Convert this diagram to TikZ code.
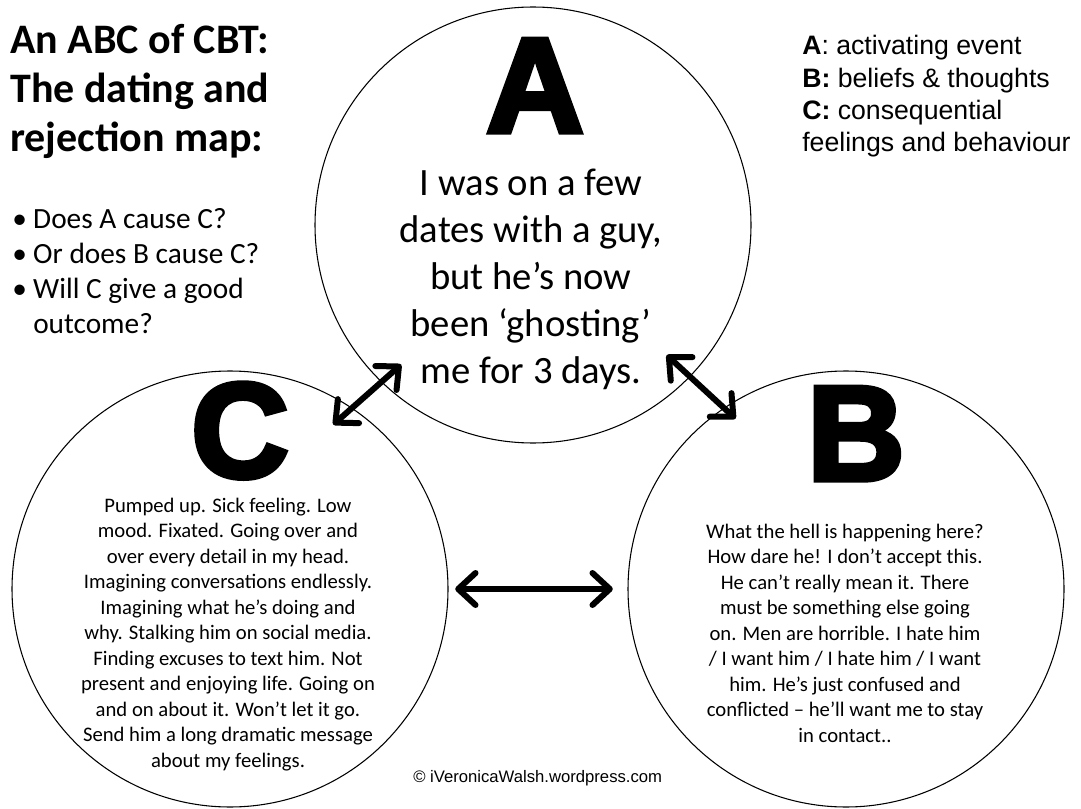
\documentclass[tikz,border=0pt]{standalone}
\usepackage{fontspec}
\setmainfont{Carlito}
\newfontfamily\arialfont{Liberation Sans}
\newfontfamily\heavyfont[FakeBold=4]{Liberation Sans Bold}
\usetikzlibrary{arrows.meta}
\newcommand{\bul}{\makebox[15.75pt][l]{•}}

\begin{document}
\begin{tikzpicture}[x=0.75pt,y=-0.75pt,
  circ/.style={circle,draw,line width=0.8pt,minimum size=327pt,inner sep=0pt},
  bigletter/.style={font=\heavyfont\fontsize{101}{101}\selectfont,inner sep=0pt,anchor=base},
  bodytext/.style={align=center,inner sep=0pt,anchor=base,font=\fontsize{15.5}{19.1}\selectfont},
  link/.style={line width=4.5pt,arrows={Straight Barb[round,length=13pt,width=24pt]-Straight Barb[round,length=13pt,width=24pt]}}]
\useasboundingbox (0,0) rectangle (1081,809);
\node[circ] (circA) at (533,225) {};
\node[circ] (circC) at (230,589) {};
\node[circ] (circB) at (846,589) {};
\node[bigletter] (letA) at (535,132) {A};
\node[bigletter] (letB) at (856,480) {B};
\node[bigletter] (letC) at (240,477) {C};
\node[bodytext,font=\fontsize{29}{35.25}\selectfont] (textA) at (531,383)
  {I was on a few\\dates with a guy,\\but he’s now\\been ‘ghosting’\\me for 3 days.};
\node[bodytext] (textC) at (228,767)
  {Pumped up. Sick feeling. Low\\mood. Fixated. Going over and\\over every detail in my head.\\Imagining conversations endlessly.\\Imagining what he’s doing and\\why. Stalking him on social media.\\Finding excuses to text him. Not\\present and enjoying life. Going on\\and on about it. Won’t let it go.\\Send him a long dramatic message\\about my feelings.};
\node[bodytext] (textB) at (845,742)
  {What the hell is happening here?\\How dare he! I don’t accept this.\\He can’t really mean it. There\\must be something else going\\on. Men are horrible. I hate him\\/ I want him / I hate him / I want\\him. He’s just confused and\\conflicted – he’ll want me to stay\\in contact..};
\node[anchor=base west,align=left,inner sep=0pt,font=\bfseries\fontsize{31.5}{37}\selectfont] (title) at (10,152)
  {An ABC of CBT:\\The dating and\\rejection map:};
\node[anchor=base west,align=left,inner sep=0pt,font=\fontsize{22}{26}\selectfont] (questions) at (12,333)
  {\bul Does A cause C?\\\bul Or does B cause C?\\\bul Will C give a good\\\hspace*{15.75pt}outcome?};
\node[anchor=base west,align=left,inner sep=0pt,font=\arialfont\fontsize{20}{24.3}\selectfont] (legend) at (802,152)
  {\textbf{A}: activating event\\\textbf{B:} beliefs \& thoughts\\\textbf{C:} consequential\\feelings and behaviour};
\node[anchor=base west,inner sep=0pt,font=\arialfont\fontsize{12.5}{15}\selectfont] (credit) at (413,782)
  {© iVeronicaWalsh.wordpress.com};
\draw[link,shorten <=-20pt,shorten >=-19pt] (circA.226) -- (circC.56);
\draw[link,shorten <=-24pt,shorten >=-12pt] (circA.-44) -- (circB.124);
\draw[link,shorten <=5pt,shorten >=11pt] (circC.east) -- (circB.west);
\end{tikzpicture}
\end{document}
